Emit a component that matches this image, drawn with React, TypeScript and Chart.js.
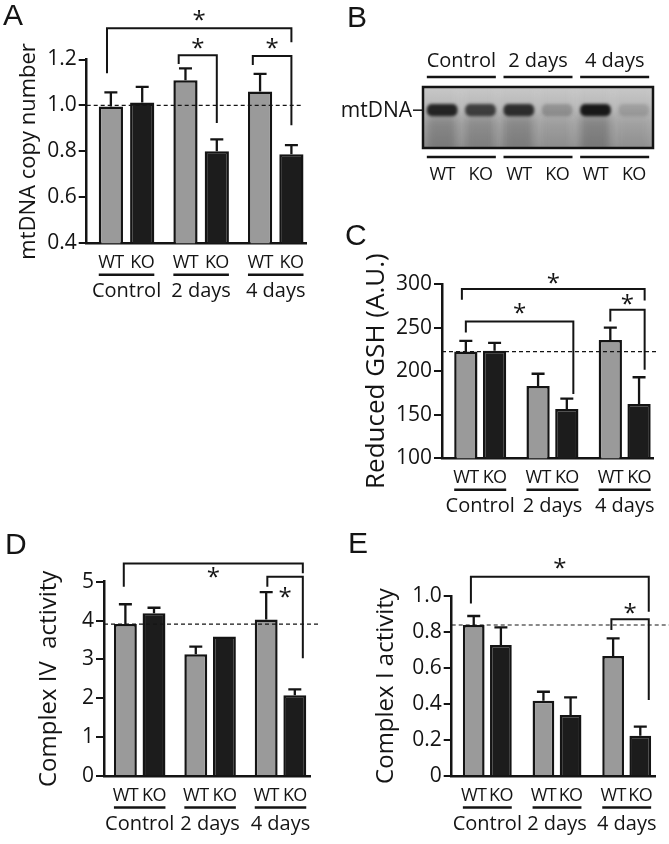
import React, { useEffect, useRef } from 'react';
import { Chart, registerables } from 'chart.js';

Chart.register(...registerables);

const FONT = "'Open Sans', 'DejaVu Sans', sans-serif";
const LETTER_FONT = "'Liberation Sans', Arial, sans-serif";
const INK = '#141414';
const WT_FILL = '#9a9a9a';
const KO_FILL = '#1c1c1c';

Chart.defaults.font.family = FONT;
Chart.defaults.color = INK;

// ---------- shared categories ----------
const groups = ['Control', '2 days', '4 days'];
const genotypes = ['WT', 'KO'];

// ---------- A: mtDNA copy number ----------
const mtdnaWT = [0.995, 1.11, 1.061];
const mtdnaWTsem = [0.062, 0.051, 0.076];
const mtdnaKO = [1.013, 0.801, 0.788];
const mtdnaKOsem = [0.068, 0.051, 0.039];
const mtdnaRef = 1.0;
const mtdnaBrackets = [
  { from: 0, to: 5, top: 1.336, fromEnd: 1.14, toEnd: 1.275, star: 1.393, dxFrom: -0.16, dxTo: 0 },
  { from: 2, to: 3, top: 1.219, fromEnd: 1.18, toEnd: 0.924, star: 1.271, dxFrom: -0.28, dxTo: 0 },
  { from: 4, to: 5, top: 1.215, fromEnd: 1.176, toEnd: 0.914, star: 1.271, dxFrom: -0.3, dxTo: 0 },
];

// ---------- B: Southern blot ----------
const lanes = ['WT', 'KO', 'WT', 'KO', 'WT', 'KO'];
const bandIntensity = [0.88, 0.72, 0.82, 0.22, 0.95, 0.14];
const bandWindow = [0.52, 0.72];

// ---------- C: reduced GSH ----------
const gshWT = [222.5, 183, 235.6];
const gshWTsem = [12.3, 14, 14.4];
const gshKO = [223.3, 156.7, 162.4];
const gshKOsem = [9.2, 11.8, 30.6];
const gshRef = 222.5;
const gshBrackets = [
  { from: 0, to: 5, top: 294.3, fromEnd: 282, toEnd: 281, star: 307, dxFrom: -0.17, dxTo: 0.24 },
  { from: 0, to: 3, top: 257, fromEnd: 244.4, toEnd: 173.9, star: 272.8, dxFrom: 0, dxTo: 0.28 },
  { from: 4, to: 5, top: 270.5, fromEnd: 257, toEnd: 201.5, star: 283, dxFrom: 0, dxTo: 0.24 },
];

// ---------- D: complex IV ----------
const c4WT = [3.91, 3.13, 4.03];
const c4WTsem = [0.51, 0.2, 0.7];
const c4KO = [4.19, 3.59, 2.08];
const c4KOsem = [0.14, 0, 0.15];
const c4Ref = 3.91;
const c4Brackets = [
  { from: 0, to: 5, top: 5.47, fromEnd: 4.87, toEnd: 5.22, star: 5.26, dxFrom: -0.07, dxTo: 0.35 },
  { from: 4, to: 5, top: 5.13, fromEnd: 4.87, toEnd: 3.03, star: 4.74, dxFrom: 0.05, dxTo: 0.35 },
];

// ---------- E: complex I ----------
const c1WT = [0.839, 0.418, 0.667];
const c1WTsem = [0.05, 0.05, 0.098];
const c1KO = [0.728, 0.339, 0.224];
const c1KOsem = [0.098, 0.098, 0.05];
const c1Ref = 0.839;
const c1Brackets = [
  { from: 0, to: 5, top: 1.107, fromEnd: 0.959, toEnd: 0.913, star: 1.183, dxFrom: -0.13, dxTo: 0.39 },
  { from: 4, to: 5, top: 0.871, fromEnd: 0.811, toEnd: 0.422, star: 0.932, dxFrom: -0.08, dxTo: 0.39 },
];

type Bracket = { from: number; to: number; top: number; fromEnd: number; toEnd: number; star: number; dxFrom: number; dxTo: number };

function drawStar(ctx: CanvasRenderingContext2D, x: number, cy: number) {
  ctx.font = `24px ${FONT}`;
  ctx.textAlign = 'center';
  ctx.textBaseline = 'alphabetic';
  ctx.fillText('*', x, cy + 13);
}

function setSpacing(ctx: any, v: string) {
  if ('letterSpacing' in ctx) ctx.letterSpacing = v;
}

function barDecor(cfg: any) {
  return {
    id: 'barDecor',
    afterDatasetsDraw(chart: any) {
      const { ctx, chartArea: ca } = chart;
      const y = chart.scales.y;
      const metas = [chart.getDatasetMeta(0), chart.getDatasetMeta(1)];
      const bars: any[] = [];
      groups.forEach((_, g) => metas.forEach((m) => bars.push(m.data[g])));
      ctx.save();
      ctx.strokeStyle = INK;
      ctx.fillStyle = INK;
      ctx.lineCap = 'butt';
      // error bars (upper only)
      ctx.lineWidth = 2.3;
      metas.forEach((m, d) =>
        m.data.forEach((el: any, g: number) => {
          const s = cfg.sems[d][g];
          if (!s) return;
          const mean = chart.data.datasets[d].data[g].y;
          const y1 = y.getPixelForValue(mean + s);
          ctx.beginPath();
          ctx.moveTo(el.x, el.y);
          ctx.lineTo(el.x, y1);
          ctx.moveTo(el.x - 6.5, y1);
          ctx.lineTo(el.x + 6.5, y1);
          ctx.stroke();
        })
      );
      // dashed reference line
      ctx.lineWidth = 1.2;
      ctx.setLineDash([4, 3]);
      const ry = y.getPixelForValue(cfg.ref);
      ctx.beginPath();
      ctx.moveTo(ca.left, ry);
      ctx.lineTo(ca.right + cfg.refExtend, ry);
      ctx.stroke();
      ctx.setLineDash([]);
      // significance brackets
      ctx.lineWidth = 2;
      cfg.brackets.forEach((b: Bracket) => {
        const A = bars[b.from];
        const B = bars[b.to];
        const xa = A.x + b.dxFrom * A.width;
        const xb = B.x + b.dxTo * B.width;
        const yt = y.getPixelForValue(b.top);
        ctx.beginPath();
        ctx.moveTo(xa, y.getPixelForValue(b.fromEnd));
        ctx.lineTo(xa, yt);
        ctx.lineTo(xb, yt);
        ctx.lineTo(xb, y.getPixelForValue(b.toEnd));
        ctx.stroke();
        drawStar(ctx, (xa + xb) / 2, y.getPixelForValue(b.star));
      });
      // genotype / group labels
      ctx.textAlign = 'center';
      ctx.textBaseline = 'alphabetic';
      groups.forEach((name, g) => {
        const w = metas[0].data[g];
        const k = metas[1].data[g];
        ctx.font = `18px ${FONT}`;
        setSpacing(ctx, '-0.6px');
        ctx.fillText(genotypes[0], w.x, ca.bottom + 25);
        ctx.fillText(genotypes[1], k.x, ca.bottom + 25);
        setSpacing(ctx, '0px');
        ctx.lineWidth = 2.5;
        ctx.beginPath();
        ctx.moveTo(w.x - w.width / 2, ca.bottom + 31.5);
        ctx.lineTo(k.x + k.width / 2, ca.bottom + 31.5);
        ctx.stroke();
        ctx.font = `20px ${FONT}`;
        ctx.fillText(name, (w.x + k.x) / 2, ca.bottom + 54);
      });
      // panel letter
      ctx.font = `30px ${LETTER_FONT}`;
      ctx.textAlign = 'left';
      ctx.fillText(cfg.letter, cfg.letterX, cfg.letterY);
      ctx.restore();
    },
  };
}

function barPanel(p: any) {
  return () => ({
    type: 'bar',
    data: {
      datasets: [
        {
          label: genotypes[0],
          data: groups.map((_, i) => ({ x: i, y: p.wt[i] })),
          backgroundColor: WT_FILL,
          borderColor: INK,
          borderWidth: 2.5,
        },
        {
          label: genotypes[1],
          data: groups.map((_, i) => ({ x: i, y: p.ko[i] })),
          backgroundColor: KO_FILL,
          borderColor: INK,
          borderWidth: 2.5,
        },
      ],
    },
    options: {
      animation: false,
      responsive: false,
      devicePixelRatio: 1,
      categoryPercentage: p.catPct,
      barPercentage: p.barPct,
      layout: { padding: { left: 0, top: p.padTop, right: p.padRight, bottom: 0 } },
      plugins: { legend: { display: false }, tooltip: { enabled: false } },
      scales: {
        x: {
          type: 'linear',
          bounds: 'data',
          offset: false,
          min: p.xMin,
          max: p.xMax,
          z: 1,
          ticks: { display: false, stepSize: 1, includeBounds: false },
          grid: { display: false, offset: false },
          border: { color: INK, width: 2.5 },
          afterFit: (s: any) => {
            s.height = p.xHeight;
          },
        },
        y: {
          min: p.yMin,
          max: p.yMax,
          ticks: {
            stepSize: p.yStep,
            color: INK,
            padding: 2,
            font: { size: 21, family: FONT },
            callback: p.fmt,
          },
          grid: { drawOnChartArea: false, tickLength: 8, color: INK, lineWidth: 2 },
          border: { color: INK, width: 2.5 },
          title: {
            display: true,
            text: p.title,
            color: INK,
            font: { size: p.titleSize, family: FONT },
            padding: { top: p.titlePad, bottom: 0 },
          },
          afterFit: (s: any) => {
            s.width = p.yWidth;
          },
        },
      },
    },
    plugins: [
      barDecor({
        sems: [p.wtSem, p.koSem],
        ref: p.ref,
        refExtend: p.refExtend,
        brackets: p.brackets,
        letter: p.letter,
        letterX: p.letterX,
        letterY: p.letterY,
      }),
    ],
  });
}

const gelDecor = {
  id: 'gelDecor',
  beforeDatasetsDraw(chart: any) {
    const { ctx, chartArea: ca } = chart;
    ctx.save();
    ctx.beginPath();
    ctx.rect(ca.left, ca.top, ca.width, ca.height);
    ctx.clip();
    const g = ctx.createLinearGradient(0, ca.top, 0, ca.bottom);
    g.addColorStop(0, '#c8c8c8');
    g.addColorStop(0.3, '#b9b9b9');
    g.addColorStop(0.6, '#a6a6a6');
    g.addColorStop(1, '#939393');
    ctx.fillStyle = g;
    ctx.fillRect(ca.left, ca.top, ca.width, ca.height);
    ctx.filter = 'blur(4px)';
    chart.getDatasetMeta(0).data.forEach((el: any, i: number) => {
      ctx.fillStyle = `rgba(40,40,40,${0.28 * bandIntensity[i]})`;
      ctx.fillRect(el.x - el.width / 2, el.base, el.width, ca.bottom - el.base + 6);
      ctx.fillStyle = 'rgba(230,230,230,0.25)';
      ctx.fillRect(el.x + el.width / 2 + 1, ca.top, 3, ca.height);
    });
    ctx.filter = 'blur(1.6px)';
  },
  afterDatasetsDraw(chart: any) {
    const { ctx, chartArea: ca } = chart;
    ctx.restore();
    ctx.save();
    ctx.strokeStyle = INK;
    ctx.fillStyle = INK;
    ctx.lineWidth = 2.5;
    ctx.strokeRect(ca.left, ca.top, ca.width, ca.height);
    const els = chart.getDatasetMeta(0).data;
    const y = chart.scales.y;
    ctx.textAlign = 'center';
    ctx.textBaseline = 'alphabetic';
    groups.forEach((name, g) => {
      const a = els[2 * g];
      const b = els[2 * g + 1];
      const x0 = a.x - a.width / 2;
      const x1 = b.x + b.width / 2;
      ctx.font = `20px ${FONT}`;
      ctx.fillText(name, (a.x + b.x) / 2, ca.top - 20);
      ctx.lineWidth = 2.5;
      ctx.beginPath();
      ctx.moveTo(x0, ca.top - 10);
      ctx.lineTo(x1, ca.top - 10);
      ctx.moveTo(x0, ca.bottom + 9);
      ctx.lineTo(x1, ca.bottom + 9);
      ctx.stroke();
    });
    ctx.font = `18px ${FONT}`;
    setSpacing(ctx, '-0.6px');
    els.forEach((el: any, i: number) => ctx.fillText(lanes[i], el.x, ca.bottom + 32));
    setSpacing(ctx, '0px');
    const by = y.getPixelForValue((bandWindow[0] + bandWindow[1]) / 2);
    ctx.font = `21px ${FONT}`;
    ctx.textAlign = 'right';
    ctx.fillText('mtDNA', ca.left - 11, by + 7);
    ctx.lineWidth = 1.5;
    ctx.beginPath();
    ctx.moveTo(ca.left - 10, by);
    ctx.lineTo(ca.left, by);
    ctx.stroke();
    ctx.font = `30px ${LETTER_FONT}`;
    ctx.textAlign = 'left';
    ctx.fillText('B', 12, 27);
    ctx.restore();
  },
};

const gelPanel = () => ({
  type: 'bar',
  data: {
    labels: lanes,
    datasets: [
      {
        data: bandIntensity.map(() => bandWindow),
        backgroundColor: bandIntensity.map((v) => `rgba(16,16,16,${v})`),
        borderWidth: 0,
        borderRadius: 5,
        borderSkipped: false,
        barPercentage: 0.8,
        categoryPercentage: 1,
      },
    ],
  },
  options: {
    animation: false,
    responsive: false,
    devicePixelRatio: 1,
    layout: { padding: { left: 88, right: 16, top: 87, bottom: 52 } },
    plugins: { legend: { display: false }, tooltip: { enabled: false } },
    scales: {
      x: { display: false },
      y: { display: false, min: 0, max: 1 },
    },
  },
  plugins: [gelDecor],
});

const fmt1 = (v: number) => (v === 0 ? '0' : Number(v).toFixed(1));
const fmt0 = (v: number) => String(Math.round(v));

const panels = [
  {
    key: 'A', left: 0, top: 0, width: 335, height: 305,
    make: barPanel({
      wt: mtdnaWT, ko: mtdnaKO, wtSem: mtdnaWTsem, koSem: mtdnaKOsem, ref: mtdnaRef, refExtend: -4,
      brackets: mtdnaBrackets, yMin: 0.4, yMax: 1.2, yStep: 0.2, fmt: fmt1, title: 'mtDNA copy number',
      padTop: 59.5, padRight: 28.3, yWidth: 86.7, xHeight: 61.7, xMin: -0.534, xMax: 2.415,
      catPct: 0.885, barPct: 0.773, titleSize: 22, titlePad: 16, letter: 'A', letterX: 3, letterY: 25,
    }),
  },
  { key: 'B', left: 335, top: 0, width: 334, height: 200, make: gelPanel },
  {
    key: 'C', left: 335, top: 200, width: 334, height: 330,
    make: barPanel({
      wt: gshWT, ko: gshKO, wtSem: gshWTsem, koSem: gshKOsem, ref: gshRef, refExtend: 3,
      brackets: gshBrackets, yMin: 100, yMax: 300, yStep: 50, fmt: fmt0, title: 'Reduced GSH (A.U.)',
      padTop: 84, padRight: 16, yWidth: 107, xHeight: 71.7, xMin: -0.529, xMax: 2.392,
      catPct: 0.864, barPct: 0.81, titleSize: 26, titlePad: 26, letter: 'C', letterX: 10, letterY: 45,
    }),
  },
  {
    key: 'D', left: 0, top: 530, width: 335, height: 314,
    make: barPanel({
      wt: c4WT, ko: c4KO, wtSem: c4WTsem, koSem: c4KOsem, ref: c4Ref, refExtend: 10,
      brackets: c4Brackets, yMin: 0, yMax: 5, yStep: 1, fmt: fmt0, title: 'Complex IV  activity',
      padTop: 51.7, padRight: 25, yWidth: 104, xHeight: 68, xMin: -0.507, xMax: 2.419,
      catPct: 0.878, barPct: 0.8, titleSize: 24, titlePad: 35, letter: 'D', letterX: 5, letterY: 24,
    }),
  },
  {
    key: 'E', left: 335, top: 530, width: 334, height: 314,
    make: barPanel({
      wt: c1WT, ko: c1KO, wtSem: c1WTsem, koSem: c1KOsem, ref: c1Ref, refExtend: 14,
      brackets: c1Brackets, yMin: 0, yMax: 1, yStep: 0.2, fmt: fmt1, title: 'Complex I activity',
      padTop: 66, padRight: 14, yWidth: 116.7, xHeight: 68, xMin: -0.511, xMax: 2.406,
      catPct: 0.85, barPct: 0.8, titleSize: 24, titlePad: 37, letter: 'E', letterX: 13, letterY: 23,
    }),
  },
];

function ChartCanvas({ left, top, width, height, make }: any) {
  const ref = useRef<HTMLCanvasElement>(null);
  useEffect(() => {
    const chart = new Chart(ref.current as HTMLCanvasElement, make());
    return () => chart.destroy();
  }, []);
  return (
    <canvas
      ref={ref}
      width={width}
      height={height}
      style={{ position: 'absolute', left, top, width, height, display: 'block' }}
    />
  );
}

export default function App() {
  return (
    <div style={{ position: 'absolute', left: 0, top: 0, width: 669, height: 844, background: '#fff', overflow: 'hidden' }}>
      {panels.map((p) => (
        <ChartCanvas key={p.key} left={p.left} top={p.top} width={p.width} height={p.height} make={p.make} />
      ))}
    </div>
  );
}
